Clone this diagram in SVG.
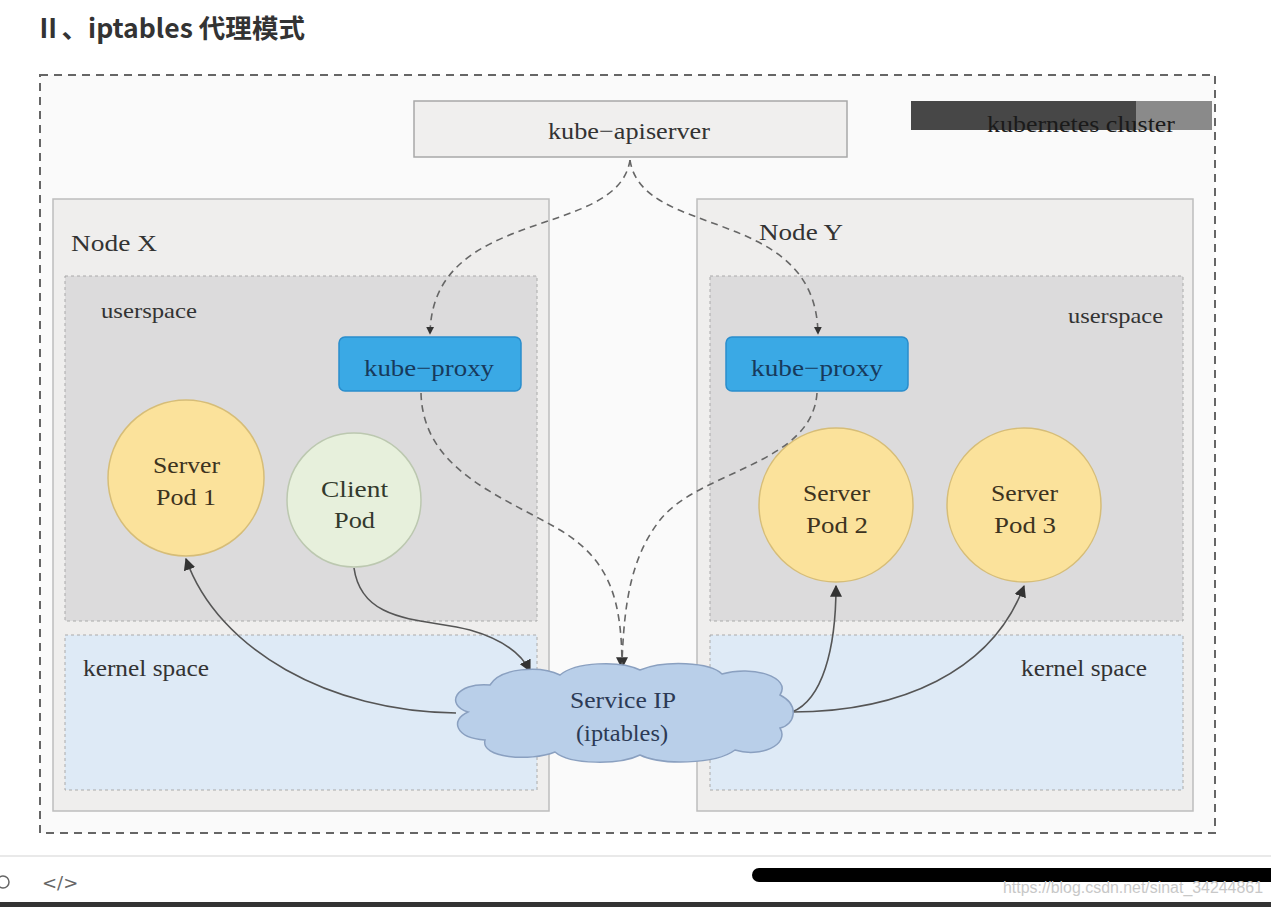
<svg xmlns="http://www.w3.org/2000/svg" width="1271" height="907" viewBox="0 0 1271 907">
<defs>
<style>
.t{font-family:"Liberation Serif","DejaVu Serif",serif;fill:#333}
.node{fill:#efeeed;stroke:#bdbdbd;stroke-width:1.5}
.us{fill:#dcdbdc;stroke:#aaa;stroke-width:1;stroke-dasharray:3 3}
.ks{fill:#deeaf6;stroke:#aaa;stroke-width:1;stroke-dasharray:3 3}
.proxy{fill:#3aa9e5;stroke:#2a8dcc;stroke-width:1.5}
.spod{fill:#fbe29b;stroke:#d6bd78;stroke-width:1.5}
.cpod{fill:#e7f0dc;stroke:#bcc8b0;stroke-width:1.5}
.dash{fill:none;stroke:#666;stroke-width:1.6;stroke-dasharray:7 5}
.solid{fill:none;stroke:#555;stroke-width:1.6}
</style>
<marker id="ah" viewBox="0 0 10 10" refX="9" refY="5" markerWidth="8" markerHeight="8" orient="auto" markerUnits="userSpaceOnUse">
<path d="M0,0 L10,5 L0,10 z" fill="#333"/>
</marker>
<marker id="ah2" viewBox="0 0 10 10" refX="9" refY="5" markerWidth="12" markerHeight="12" orient="auto" markerUnits="userSpaceOnUse">
<path d="M0,0 L10,5 L0,10 z" fill="#333"/>
</marker>
</defs>
<rect x="0" y="0" width="1271" height="907" fill="#ffffff"/>
<text x="35" y="38" font-family="'Noto Sans CJK SC','Noto Sans',sans-serif" font-weight="bold" font-size="26" fill="#333" textLength="270" lengthAdjust="spacingAndGlyphs">Ⅱ、iptables 代理模式</text>

<g id="cluster">
<rect x="40" y="75" width="1175" height="758" fill="#fafafa" stroke="#666" stroke-width="2" stroke-dasharray="8 6"/>
</g>

<g id="cluster-label">
<rect x="911" y="101" width="225" height="29" fill="#474747"/>
<rect x="1136" y="101" width="76" height="29" fill="#8a8a8a"/>
<text class="t" x="987" y="132" font-size="23" style="fill:#1a1a1a" textLength="188" lengthAdjust="spacingAndGlyphs">kubernetes cluster</text>
</g>

<g id="apiserver">
<rect x="414" y="101" width="433" height="56" fill="#f0efee" stroke="#a8a8a8" stroke-width="1.5"/>
<text class="t" x="548" y="139" font-size="24" textLength="162" lengthAdjust="spacingAndGlyphs">kube−apiserver</text>
</g>

<g id="nodeX">
<rect class="node" x="53" y="199" width="496" height="612"/>
<text class="t" x="71" y="251" font-size="24" textLength="86" lengthAdjust="spacingAndGlyphs">Node X</text>
<rect class="us" x="65" y="276" width="472" height="345"/>
<text class="t" x="101" y="318" font-size="21" textLength="96" lengthAdjust="spacingAndGlyphs">userspace</text>
<rect class="ks" x="65" y="635" width="472" height="155"/>
<text class="t" x="83" y="676" font-size="23" textLength="126" lengthAdjust="spacingAndGlyphs">kernel space</text>
</g>

<g id="nodeY">
<rect class="node" x="697" y="199" width="496" height="612"/>
<text class="t" x="759" y="240" font-size="24" textLength="84" lengthAdjust="spacingAndGlyphs">Node Y</text>
<rect class="us" x="710" y="276" width="473" height="345"/>
<text class="t" x="1068" y="323" font-size="21" textLength="95" lengthAdjust="spacingAndGlyphs">userspace</text>
<rect class="ks" x="710" y="635" width="473" height="155"/>
<text class="t" x="1021" y="676" font-size="23" textLength="126" lengthAdjust="spacingAndGlyphs">kernel space</text>
</g>

<g id="proxyX">
<rect class="proxy" x="339" y="337" width="182" height="54" rx="6"/>
<text class="t" x="364" y="376" font-size="24" style="fill:#173a5c" textLength="130" lengthAdjust="spacingAndGlyphs">kube−proxy</text>
</g>
<g id="proxyY">
<rect class="proxy" x="726" y="337" width="182" height="54" rx="6"/>
<text class="t" x="751" y="376" font-size="24" style="fill:#173a5c" textLength="132" lengthAdjust="spacingAndGlyphs">kube−proxy</text>
</g>

<g id="pod1">
<circle class="spod" cx="186" cy="478" r="78"/>
<text class="t" x="153" y="473" font-size="24" style="fill:#3d3320" textLength="67" lengthAdjust="spacingAndGlyphs">Server</text>
<text class="t" x="156" y="505" font-size="24" style="fill:#3d3320" textLength="60" lengthAdjust="spacingAndGlyphs">Pod 1</text>
</g>
<g id="client">
<circle class="cpod" cx="354" cy="500" r="67"/>
<text class="t" x="321" y="497" font-size="24" style="fill:#333a2d" textLength="67" lengthAdjust="spacingAndGlyphs">Client</text>
<text class="t" x="334" y="528" font-size="24" style="fill:#333a2d" textLength="41" lengthAdjust="spacingAndGlyphs">Pod</text>
</g>
<g id="pod2">
<circle class="spod" cx="836" cy="505" r="77"/>
<text class="t" x="803" y="501" font-size="24" style="fill:#3d3320" textLength="67" lengthAdjust="spacingAndGlyphs">Server</text>
<text class="t" x="806" y="533" font-size="24" style="fill:#3d3320" textLength="62" lengthAdjust="spacingAndGlyphs">Pod 2</text>
</g>
<g id="pod3">
<circle class="spod" cx="1024" cy="505" r="77"/>
<text class="t" x="991" y="501" font-size="24" style="fill:#3d3320" textLength="67" lengthAdjust="spacingAndGlyphs">Server</text>
<text class="t" x="994" y="533" font-size="24" style="fill:#3d3320" textLength="62" lengthAdjust="spacingAndGlyphs">Pod 3</text>
</g>

<g id="connectors">
<path class="dash" d="M630,160 C618,240 432,205 430,334" marker-end="url(#ah)"/>
<path class="dash" d="M630,160 C642,240 816,205 818,334" marker-end="url(#ah)"/>
<path class="dash" d="M421,393 C423,470 500,495 560,530 C610,560 622,600 622,668" marker-end="url(#ah2)"/>
<path class="dash" d="M817,393 C812,465 700,470 660,520 C632,556 624,600 622,664"/>
<path class="solid" d="M354,568 C362,625 425,618 470,630 C505,640 522,655 530,671" marker-end="url(#ah2)"/>
<path class="solid" d="M456,713 C330,712 218,650 186,559" marker-end="url(#ah2)"/>
<path class="solid" d="M792,712 C822,700 836,650 836,586" marker-end="url(#ah2)"/>
<path class="solid" d="M792,712 C900,712 992,672 1024,586" marker-end="url(#ah2)"/>
</g>

<g id="service-ip">
<path d="M468,712 C445,705 455,682 490,685 C500,668 540,665 560,675 C575,662 620,660 640,670 C665,660 710,662 722,674 C752,665 792,677 780,695 C800,705 795,725 780,728 C790,745 760,758 735,750 C715,765 660,765 640,755 C620,765 570,765 555,752 C530,762 480,758 485,740 C455,738 450,720 468,712 Z" fill="#b9cfe9" stroke="#8aa0c0" stroke-width="1.5"/>
<text class="t" x="570" y="708" font-size="24" style="fill:#2c3a55" textLength="106" lengthAdjust="spacingAndGlyphs">Service IP</text>
<text class="t" x="576" y="741" font-size="24" style="fill:#2c3a55" textLength="92" lengthAdjust="spacingAndGlyphs">(iptables)</text>
</g>

<g id="footer">
<line x1="0" y1="856" x2="1271" y2="856" stroke="#e2e2e2" stroke-width="1.5"/>
<circle cx="3" cy="882" r="6" fill="none" stroke="#666" stroke-width="1.5"/>
<text x="42" y="889" font-family="'DejaVu Sans',sans-serif" font-size="18" fill="#666">&lt;/&gt;</text>
<rect x="752" y="868" width="530" height="14" rx="7" fill="#000"/>
<text x="1003" y="893" font-family="'Liberation Sans',sans-serif" font-size="16" fill="#c8c8c8" textLength="260" lengthAdjust="spacingAndGlyphs">https://blog.csdn.net/sinat_34244861</text>
<rect x="0" y="902" width="1271" height="5" fill="#333"/>
</g>
</svg>
